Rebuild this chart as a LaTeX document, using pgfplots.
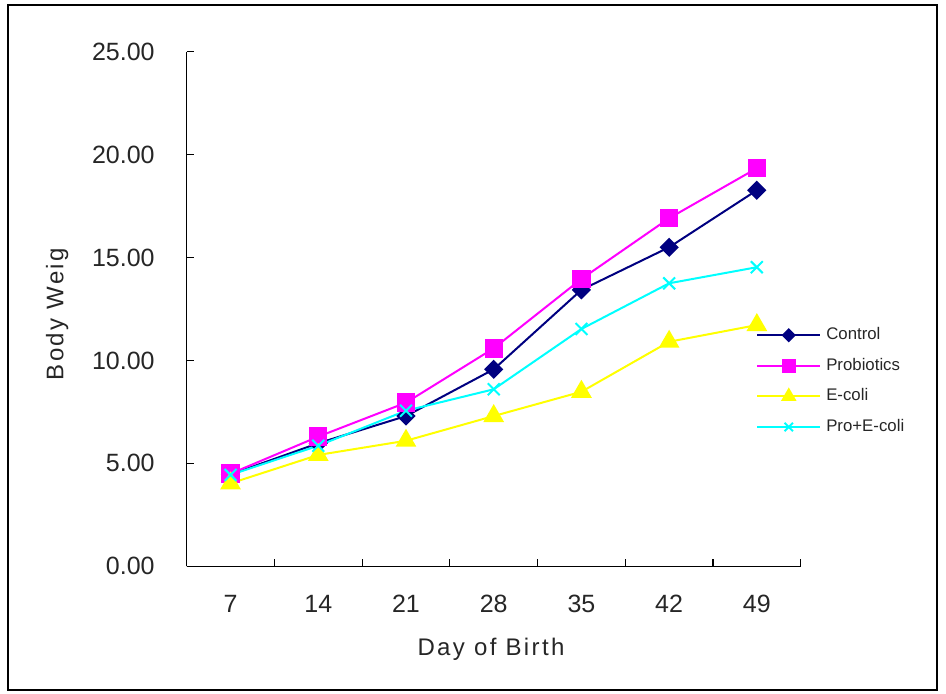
\documentclass[border=0pt]{standalone}
\usepackage{pgfplots}
\pgfplotsset{compat=1.18}
\usepackage{fontspec}
\setmainfont{Liberation Sans}
\newfontfamily\labfont[LetterSpace=10]{Liberation Sans}
\definecolor{cnavy}{RGB}{0,0,128}
\definecolor{cmag}{RGB}{255,0,255}
\definecolor{cyel}{RGB}{255,255,0}
\definecolor{ccyan}{RGB}{0,255,255}
\definecolor{ctext}{gray}{0.15}
\begin{document}
\begin{tikzpicture}
\useasboundingbox (0,0) rectangle (473pt,346.5pt);
\draw[line width=1.2pt] (4pt,1.5pt) rectangle (468.5pt,344pt);
\begin{axis}[
  at={(93.35pt,63.35pt)}, anchor=south west,
  scale only axis, width=307pt, height=257.3pt,
  xmin=-0.5, xmax=6.5, ymin=0, ymax=25,
  clip=false,
  axis x line*=bottom, axis y line*=left,
  axis line style={line width=0.6pt, black},
  tick align=inside,
  major tick length=3.6pt,
  tick style={line width=0.6pt, black},
  xtick={-0.5,0.5,1.5,2.5,3.5,4.5,5.5,6.5}, xticklabels={},
  extra x ticks={0,1,2,3,4,5,6},
  extra x tick labels={7,14,21,28,35,42,49},
  extra x tick style={major tick length=0pt},
  ytick={0,5,10,15,20,25},
  ticklabel style={font=\fontsize{12.5}{15}\selectfont, text=ctext},
  xticklabel style={anchor=base, yshift=-23.15pt, inner sep=0pt},
  yticklabel style={anchor=east, xshift=-15.85pt, inner sep=0pt,
    /pgf/number format/.cd, fixed, fixed zerofill, precision=2, assume math mode=true},
  xlabel={Day of Birth},
  ylabel={Body Weig},
  label style={font=\labfont\fontsize{12}{14}\selectfont, text=ctext},
  xlabel style={at={(axis description cs:0.4956,-0.1724)}, anchor=base, inner sep=0pt},
  ylabel style={at={(axis description cs:-0.201,0.49)}, anchor=base, inner sep=0pt},
  legend style={at={(0.927,0.466)}, anchor=north west, draw=none, fill=none,
    font=\fontsize{8.4}{10}\selectfont, text=ctext,
    row sep=7pt, column sep=2.5pt, inner sep=0pt,
    nodes={inner sep=0pt, text height=6.3pt, text depth=2pt}},
  legend cell align=left,
  legend image code/.code={\draw[mark repeat=2,mark phase=2,#1,every mark/.append style={scale=0.7}] plot coordinates {(0pt,0pt) (15.75pt,0pt) (31.5pt,0pt)};},
  every axis plot/.append style={line width=1pt},
]
\addplot[color=cnavy, mark=square*, mark size=2.9pt, mark options={rotate=45, fill=cnavy}]
  coordinates {(0,4.46) (1,5.98) (2,7.30) (3,9.57) (4,13.43) (5,15.50) (6,18.27)};
\addlegendentry{Control}
\addplot[color=cmag, mark=square*, mark size=4.1pt, mark options={fill=cmag}]
  coordinates {(0,4.50) (1,6.30) (2,7.95) (3,10.59) (4,13.96) (5,16.91) (6,19.34)};
\addlegendentry{Probiotics}
\addplot[color=cyel, mark=triangle*, mark size=5pt, mark options={fill=cyel}]
  coordinates {(0,4.03) (1,5.41) (2,6.10) (3,7.30) (4,8.48) (5,10.91) (6,11.72)};
\addlegendentry{E-coli}
\addplot[color=ccyan, mark=x, mark size=4.2pt, mark options={line width=1pt}]
  coordinates {(0,4.44) (1,5.86) (2,7.56) (3,8.60) (4,11.53) (5,13.75) (6,14.53)};
\addlegendentry{Pro+E-coli}
\end{axis}
\end{tikzpicture}
\end{document}
